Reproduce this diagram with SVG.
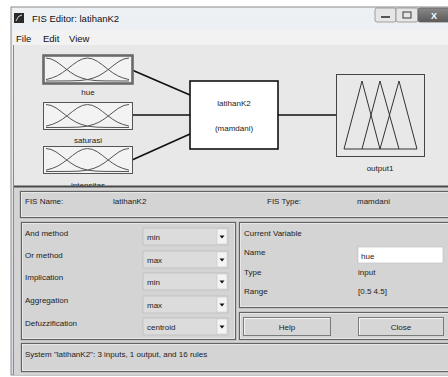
<svg xmlns="http://www.w3.org/2000/svg" width="448" height="377" viewBox="0 0 448 377">
<style>
  text { font-family: "Liberation Sans", Arial, sans-serif; fill: #222; }
  .ui { font-size: 8px; }
  .title { font-size: 9.5px; fill: #111; }
  .menu { font-size: 9.5px; fill: #111; }
  .mf { fill: none; stroke: #555; stroke-width: 1; vector-effect: non-scaling-stroke; stroke-linejoin: round; }
  .inbox { fill: #f3f3f3; stroke: #555; stroke-width: 1; }
  .frameD { fill: none; stroke: #626262; stroke-width: 1.3; }
  .frameL { fill: none; stroke: #f0f0f0; stroke-width: 0.8; }
  .dd { fill: #dcdcdc; stroke: #bdbdbd; stroke-width: 0.8; }
  .ddbtn { fill: #f4f4f4; stroke: #c8c8c8; stroke-width: 0.6; }
  .btn { fill: #d6d6d6; stroke: #7a7a7a; stroke-width: 1; }
  .conn { stroke: #111; stroke-width: 1.6; fill: none; }
</style>
<defs>
  <g id="mfset">
    <path class="mf" d="M0,0 L5,1 L10,3.7 L15,7.6 L20,11.9 L25,15.9 L30,19.2 L35,21.5 L41.5,23.5 L50,24.6 L60,24.9 L83,25"/>
    <path class="mf" d="M0,23.5 L6.5,21.5 L11.5,19.2 L16.5,15.9 L21.5,11.9 L26.5,7.6 L31.5,3.7 L36.5,1 L41.5,0 L46.5,1 L51.5,3.7 L56.5,7.6 L61.5,11.9 L66.5,15.9 L71.5,19.2 L76.5,21.5 L83,23.5"/>
    <path class="mf" d="M83,0 L78,1 L73,3.7 L68,7.6 L63,11.9 L58,15.9 L53,19.2 L48,21.5 L41.5,23.5 L33,24.6 L23,24.9 L0,25"/>
  </g>
  <linearGradient id="tbar" x1="0" y1="0" x2="0" y2="1">
    <stop offset="0" stop-color="#eef1f4"/>
    <stop offset="1" stop-color="#d5dbe2"/>
  </linearGradient>
  <linearGradient id="closeg" x1="0" y1="0" x2="0" y2="1">
    <stop offset="0" stop-color="#8a8a8a"/>
    <stop offset="1" stop-color="#5a5a5a"/>
  </linearGradient>
</defs>

<!-- outside -->
<rect x="0" y="0" width="448" height="377" fill="#ffffff"/>

<!-- window frame / title bar -->
<rect x="11" y="7" width="440" height="368" fill="url(#tbar)" stroke="#8c8c8c" stroke-width="1"/>
<rect x="14" y="13" width="10" height="10" fill="#2a2a2a"/>
<path d="M16,21 Q18,15 22,15" stroke="#ddd" stroke-width="1" fill="none"/>
<text class="title" x="32" y="22">FIS Editor: latihanK2</text>
<rect x="375" y="8" width="21" height="14" rx="2" fill="#e6e6e6" stroke="#8a8a8a" stroke-width="0.8"/>
<rect x="381" y="16" width="9" height="2" fill="#555"/>
<rect x="396" y="8" width="22" height="14" rx="2" fill="#e6e6e6" stroke="#8a8a8a" stroke-width="0.8"/>
<rect x="403" y="12" width="8" height="6" fill="none" stroke="#555" stroke-width="1.2"/>
<rect x="418" y="8" width="34" height="14" rx="2" fill="url(#closeg)" stroke="#666" stroke-width="0.8"/>
<text x="431" y="19" style="font-size:9px;font-weight:bold;fill:#fff">X</text>

<!-- menu bar -->
<rect x="13" y="30" width="440" height="15" fill="#f2f2f2"/>
<text class="menu" x="16" y="42">File</text>
<text class="menu" x="43" y="42">Edit</text>
<text class="menu" x="69" y="42">View</text>

<!-- diagram area -->
<rect x="13" y="45" width="440" height="142" fill="#e8e8e8"/>
<line x1="13.5" y1="45" x2="13.5" y2="375" stroke="#8a8a8a" stroke-width="1"/>

<!-- connectors -->
<g id="connectors">
  <line class="conn" x1="132" y1="70" x2="190" y2="95"/>
  <line class="conn" x1="132" y1="115" x2="190" y2="115"/>
  <line class="conn" x1="132" y1="160" x2="190" y2="134"/>
  <line class="conn" x1="278" y1="115" x2="336" y2="115"/>
</g>

<g id="node-hue">
  <rect x="43.5" y="55.5" width="89" height="28" fill="#f3f3f3" stroke="#6a6a6a" stroke-width="2.6"/>
  <use href="#mfset" transform="translate(46,58) scale(1,0.92)"/>
  <text class="ui" x="88" y="95" text-anchor="middle">hue</text>
</g>
<g id="node-saturasi">
  <rect class="inbox" x="43.5" y="102.5" width="89" height="27"/>
  <use href="#mfset" transform="translate(46,104.5) scale(1,0.92)"/>
  <text class="ui" x="88" y="143" text-anchor="middle">saturasi</text>
</g>
<g id="node-intensitas">
  <rect class="inbox" x="43.5" y="146.5" width="89" height="27"/>
  <use href="#mfset" transform="translate(46,148.5) scale(1,0.92)"/>
  <text class="ui" x="88" y="188" text-anchor="middle">intensitas</text>
</g>
<g id="node-fis">
  <rect x="190" y="81" width="88" height="68" fill="#ffffff" stroke="#111" stroke-width="1.6"/>
  <text class="ui" x="234" y="106" text-anchor="middle">latihanK2</text>
  <text class="ui" x="234" y="131" text-anchor="middle">(mamdani)</text>
</g>
<g id="node-output1">
  <rect x="336.5" y="74.5" width="88" height="82" fill="#e8e8e8" stroke="#444" stroke-width="1"/>
  <g fill="none" stroke="#333" stroke-width="1">
    <polyline points="344,149 362,81 380,149"/>
    <polyline points="362,149 380,81 399,149"/>
    <polyline points="380,149 399,81 417,149"/>
    <line x1="344" y1="149" x2="417" y2="149"/>
  </g>
  <text class="ui" x="380" y="171" text-anchor="middle">output1</text>
</g>

<!-- lower panel -->
<rect x="14" y="186" width="440" height="189" fill="#d4d4d4"/>
<line x1="14" y1="186.5" x2="450" y2="186.5" stroke="#4a4a4a" stroke-width="2"/>

<!-- FIS name frame -->
<rect class="frameD" x="20.5" y="191.5" width="432" height="26"/>
<rect class="frameL" x="21.5" y="192.5" width="430" height="24"/>
<text class="ui" x="25" y="204">FIS Name:</text>
<text class="ui" x="113" y="204">latihanK2</text>
<text class="ui" x="267" y="204">FIS Type:</text>
<text class="ui" x="357" y="204">mamdani</text>

<!-- methods frame -->
<rect class="frameD" x="21.5" y="222.5" width="214" height="117"/>
<rect class="frameL" x="22.5" y="223.5" width="212" height="115"/>
<text class="ui" x="25" y="236">And method</text>
<text class="ui" x="25" y="258">Or method</text>
<text class="ui" x="25" y="280">Implication</text>
<text class="ui" x="25" y="303">Aggregation</text>
<text class="ui" x="25" y="326">Defuzzification</text>

<g>
  <rect class="dd" x="143" y="228" width="85" height="17"/>
  <rect class="ddbtn" x="217" y="229" width="10" height="15"/>
  <path d="M219.5,235.5 h5 l-2.5,3 z" fill="#111"/>
  <text class="ui" x="147" y="240">min</text>

  <rect class="dd" x="143" y="251" width="85" height="17"/>
  <rect class="ddbtn" x="217" y="252" width="10" height="15"/>
  <path d="M219.5,258.5 h5 l-2.5,3 z" fill="#111"/>
  <text class="ui" x="147" y="263">max</text>

  <rect class="dd" x="143" y="273" width="85" height="17"/>
  <rect class="ddbtn" x="217" y="274" width="10" height="15"/>
  <path d="M219.5,280.5 h5 l-2.5,3 z" fill="#111"/>
  <text class="ui" x="147" y="285">min</text>

  <rect class="dd" x="143" y="296" width="85" height="17"/>
  <rect class="ddbtn" x="217" y="297" width="10" height="15"/>
  <path d="M219.5,303.5 h5 l-2.5,3 z" fill="#111"/>
  <text class="ui" x="147" y="308">max</text>

  <rect class="dd" x="143" y="318" width="85" height="17"/>
  <rect class="ddbtn" x="217" y="319" width="10" height="15"/>
  <path d="M219.5,325.5 h5 l-2.5,3 z" fill="#111"/>
  <text class="ui" x="147" y="330">centroid</text>
</g>

<!-- current variable frame -->
<rect class="frameD" x="239.5" y="222.5" width="214" height="85"/>
<rect class="frameL" x="240.5" y="223.5" width="212" height="83"/>
<text class="ui" x="244" y="236">Current Variable</text>
<text class="ui" x="244" y="255">Name</text>
<rect x="358" y="247" width="85" height="16" fill="#ffffff" stroke="#bbb" stroke-width="0.6"/>
<text class="ui" x="361" y="259">hue</text>
<text class="ui" x="244" y="275">Type</text>
<text class="ui" x="358" y="275">input</text>
<text class="ui" x="244" y="294">Range</text>
<text class="ui" x="358" y="294">[0.5 4.5]</text>

<!-- buttons frame -->
<rect class="frameD" x="239.5" y="312.5" width="214" height="27"/>
<rect class="frameL" x="240.5" y="313.5" width="212" height="25"/>
<rect class="btn" x="243.5" y="317.5" width="87" height="18"/>
<line x1="244" y1="318.5" x2="330" y2="318.5" stroke="#f4f4f4" stroke-width="1"/>
<line x1="244.5" y1="318" x2="244.5" y2="335" stroke="#f4f4f4" stroke-width="1"/>
<text class="ui" x="287" y="330" text-anchor="middle">Help</text>
<rect class="btn" x="358.5" y="317.5" width="85" height="18"/>
<line x1="359" y1="318.5" x2="443" y2="318.5" stroke="#f4f4f4" stroke-width="1"/>
<line x1="359.5" y1="318" x2="359.5" y2="335" stroke="#f4f4f4" stroke-width="1"/>
<text class="ui" x="401" y="330" text-anchor="middle">Close</text>

<!-- status frame -->
<rect class="frameD" x="21.5" y="343.5" width="432" height="28"/>
<rect class="frameL" x="22.5" y="344.5" width="430" height="26"/>
<text class="ui" x="25" y="357">System "latihanK2": 3 inputs, 1 output, and 16 rules</text>
</svg>
